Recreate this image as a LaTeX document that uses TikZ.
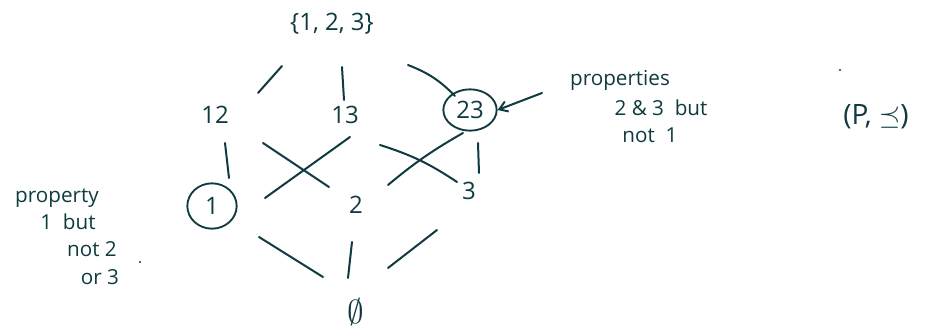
\documentclass[tikz,border=0pt]{standalone}
\usepackage{fontspec}
\setmainfont{Open Sans}
\usetikzlibrary{calc,arrows.meta,shapes.geometric}
\definecolor{ink}{RGB}{14,58,64}
\begin{document}
\begin{tikzpicture}[x=0.75pt,y=-0.75pt,line width=1.5pt,line cap=round,color=ink,
  elt/.style={font=\fontsize{18}{21}\selectfont,inner sep=1pt},
  note/.style={font=\fontsize{15.5}{18}\selectfont,inner sep=0pt},
  ring/.style={draw,ellipse,line width=1.4pt},
  dotmark/.style={fill=ink,draw=none,circle,inner sep=0pt,minimum size=1.6pt}]
\useasboundingbox (0,0) rectangle (928,334);
% elements
\node[elt] (T) at (332,24) {\{1, 2, 3\}};
\node[elt] (A) at (215,115) {12};
\node[elt] (B) at (345,115) {13};
\node[elt,ring,minimum width=40pt,minimum height=31pt] (C) at (470,110) {23};
\node[elt,ring,minimum width=37pt,minimum height=34pt] (D) at (212,206) {1};
\node[elt] (E) at (356,205) {2};
\node[elt] (F) at (469,191) {3};
\node[elt,font=\fontsize{24}{26}\selectfont] (Z) at (356,312) {$\emptyset$};
% covering lines
\draw ($(T)+(-50,42)$) -- ($(A)+(43,-22)$);
\draw ($(T)+(10,43)$) -- ($(B)+(-1,-15)$);
\draw ($(T)+(76,41)$) to[bend left=12] ($(C)+(-15,-14)$);
\draw ($(A)+(10,28)$) -- ($(D)+(17,-28)$);
\draw ($(A)+(48,28)$) -- ($(E)+(-27,-18)$);
\draw ($(B)+(5,22)$) -- ($(D)+(53,-8)$);
\draw ($(B)+(35,30)$) to[bend left=8] ($(F)+(-12,-9)$);
\draw ($(E)+(32,-20)$) to[bend left=5] ($(C)+(-7,23)$);
\draw ($(C)+(8,33)$) -- ($(F)+(10,-18)$);
\draw ($(D)+(47,31)$) -- ($(Z)+(-33,-35)$);
\draw ($(E)+(-4,37)$) -- ($(Z)+(-8,-34)$);
\draw ($(F)+(-32,39)$) -- ($(Z)+(32,-44)$);
% left annotation
\node[note] (L1) at (57,198) {property};
\node[note] (L2) at (68,222) {1\ \ but};
\node[note] (L3) at (92,249) {not 2};
\node[note] (L4) at (100,277) {or 3};
\node[dotmark] (L5) at (140,262) {};
% right annotation
\node[note] (R1) at (620,80) {properties};
\node[note] (R2) at (661,108) {2 \& 3\ \ but};
\node[note] (R3) at (650,135) {not\ \ 1};
\coordinate (arr) at (542,93);
\draw[-{Straight Barb[length=6pt,width=8pt]}] (arr) -- (C.east);
% poset name
\node[elt,font=\fontsize{21}{24}\selectfont] (P) at (876,117) {(P, $\preceq$)};
\node[dotmark] (P0) at (840,70) {};
\end{tikzpicture}
\end{document}
